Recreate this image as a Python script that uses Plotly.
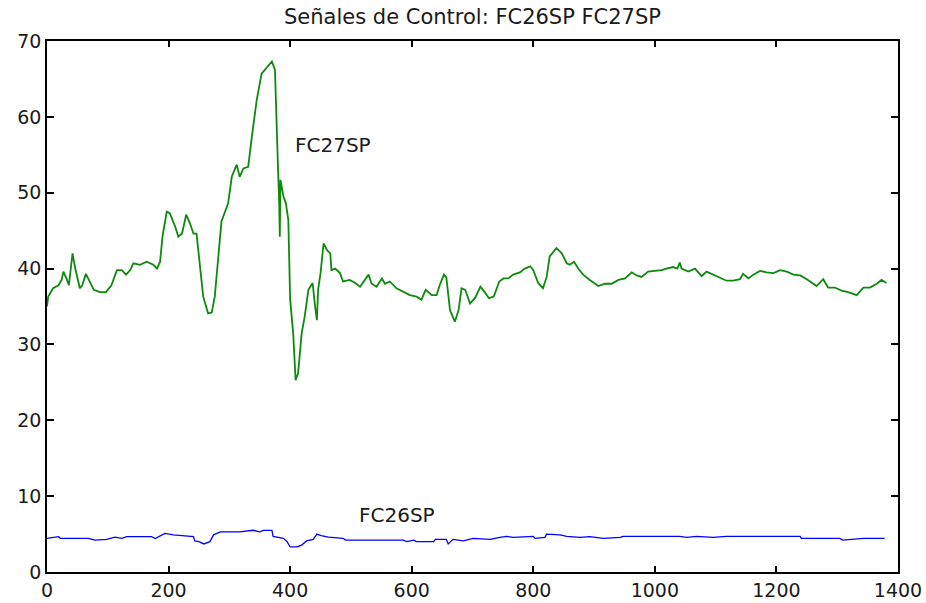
import plotly.graph_objects as go

# FC27SP control signal (sample index, value)
fc27_x = [0, 2, 10, 19, 24, 27, 32, 36, 42, 46, 54, 58, 64, 70, 77, 87, 97, 106, 115, 123,
          130, 137, 142, 153, 164, 175, 181, 186, 190, 197, 202, 211, 216, 222, 229, 235,
          241, 246, 252, 257, 265, 271, 276, 282, 287, 298, 304, 312, 317, 323, 331, 337,
          345, 353, 361, 370, 375, 378, 380, 382, 383, 384, 389, 393, 397, 400, 405, 409,
          413, 419, 424, 430, 437, 441, 444, 446, 450, 455, 461, 466, 468, 474, 482, 487,
          498, 507, 515, 529, 534, 542, 551, 556, 564, 575, 586, 597, 608, 616, 623, 633,
          641, 646, 653, 657, 663, 671, 677, 682, 688, 696, 704, 713, 720, 727, 735, 744,
          751, 759, 767, 778, 786, 795, 800, 808, 816, 822, 827, 838, 847, 855, 860, 867,
          874, 882, 893, 907, 918, 929, 940, 951, 962, 970, 978, 989, 1000, 1011, 1019,
          1030, 1037, 1041, 1044, 1055, 1066, 1077, 1085, 1096, 1107, 1118, 1129, 1140,
          1145, 1154, 1162, 1173, 1184, 1195, 1206, 1217, 1228, 1239, 1250, 1258, 1266,
          1277, 1285, 1296, 1307, 1318, 1332, 1343, 1354, 1365, 1373, 1381]
fc27_y = [35.0, 36.3, 37.4, 37.8, 38.5, 39.6, 38.7, 37.8, 42.0, 40.2, 37.4, 37.8, 39.3, 38.3,
          37.2, 36.9, 36.9, 37.8, 39.8, 39.8, 39.2, 39.8, 40.7, 40.5, 40.9, 40.5, 40.0, 40.9,
          44.2, 47.5, 47.3, 45.5, 44.2, 44.6, 47.1, 46.0, 44.6, 44.6, 40.2, 36.3, 34.1, 34.2,
          36.3, 42.0, 46.2, 48.6, 52.1, 53.7, 52.1, 53.2, 53.4, 57.4, 62.2, 65.7, 66.4, 67.3,
          66.2, 56.9, 53.4, 48.6, 44.2, 51.7, 49.5, 48.6, 46.4, 35.9, 31.5, 25.3, 26.2, 31.5,
          33.7, 37.2, 38.1, 35.0, 33.2, 37.2, 39.4, 43.3, 42.4, 42.0, 39.8, 40.0, 39.4, 38.3,
          38.5, 38.1, 37.6, 39.2, 38.0, 37.6, 38.7, 38.0, 38.3, 37.4, 36.9, 36.5, 36.3, 35.9,
          37.2, 36.5, 36.5, 37.8, 39.2, 38.8, 34.5, 33.0, 34.5, 37.4, 37.2, 35.4, 36.1, 37.6,
          36.9, 36.1, 36.3, 38.3, 38.7, 38.7, 39.2, 39.5, 40.0, 40.3, 39.8, 38.1, 37.4, 38.9,
          41.6, 42.7, 42.0, 40.7, 40.5, 40.9, 40.0, 39.2, 38.5, 37.7, 38.0, 38.0, 38.5, 38.7,
          39.5, 39.1, 38.9, 39.6, 39.7, 39.8, 40.0, 40.2, 40.0, 40.8, 40.0, 39.6, 40.0, 39.0,
          39.6, 39.2, 38.9, 38.4, 38.4, 38.6, 39.3, 38.7, 39.2, 39.7, 39.5, 39.4, 39.8, 39.6,
          39.2, 39.1, 38.6, 38.1, 37.7, 38.6, 37.5, 37.5, 37.1, 36.9, 36.5, 37.5, 37.5, 38.0,
          38.5, 38.1]

# FC26SP control signal (sample index, value)
fc26_x = [0, 19, 22, 68, 79, 98, 112, 123, 131, 172, 178, 194, 208, 241, 243, 250, 258, 268,
          274, 285, 317, 339, 350, 356, 370, 372, 389, 395, 400, 411, 419, 427, 438, 444, 451,
          463, 487, 491, 586, 592, 603, 608, 636, 639, 657, 660, 668, 685, 701, 729, 745, 756,
          767, 800, 803, 819, 822, 844, 855, 877, 893, 915, 943, 948, 1041, 1052, 1069, 1096,
          1118, 1239, 1241, 1304, 1309, 1332, 1343, 1378]
fc26_y = [4.44, 4.66, 4.44, 4.44, 4.2, 4.3, 4.6, 4.44, 4.66, 4.66, 4.4, 5.1, 4.9, 4.66, 4.1,
          4.0, 3.7, 4.0, 4.9, 5.3, 5.3, 5.5, 5.3, 5.5, 5.5, 4.7, 4.44, 4.0, 3.3, 3.3, 3.55, 4.1,
          4.3, 5.0, 4.8, 4.6, 4.44, 4.2, 4.2, 4.0, 4.2, 4.0, 4.0, 4.3, 4.3, 3.7, 4.3, 4.1, 4.44,
          4.3, 4.57, 4.7, 4.57, 4.7, 4.44, 4.57, 5.0, 4.9, 4.7, 4.57, 4.66, 4.44, 4.57, 4.7,
          4.7, 4.57, 4.7, 4.57, 4.7, 4.7, 4.44, 4.44, 4.2, 4.3, 4.44, 4.44]

x_ticks = [0, 200, 400, 600, 800, 1000, 1200, 1400]
y_ticks = [0, 10, 20, 30, 40, 50, 60, 70]

FONT = "DejaVu Sans"
INK = "#1a1a1a"

fig = go.Figure()
fig.add_trace(go.Scatter(x=fc27_x, y=fc27_y, mode="lines", name="FC27SP",
                         line=dict(color="#0c8a0c", width=1.8)))
fig.add_trace(go.Scatter(x=fc26_x, y=fc26_y, mode="lines", name="FC26SP",
                         line=dict(color="#0000ff", width=1.3)))

fig.add_annotation(x=405, y=56.3, text="FC27SP", showarrow=False, xanchor="left",
                   yanchor="middle", font=dict(family=FONT, size=20, color=INK))
fig.add_annotation(x=510, y=7.5, text="FC26SP", showarrow=False, xanchor="left",
                   yanchor="middle", font=dict(family=FONT, size=20, color=INK))

axis_common = dict(showgrid=False, zeroline=False, showline=True, linecolor="black",
                   linewidth=1.5, mirror="ticks", ticks="inside", tickcolor="black",
                   tickwidth=1.5, automargin=False,
                   tickfont=dict(family=FONT, size=19, color=INK))

fig.update_xaxes(range=[0, 1400], tickvals=x_ticks, ticklen=6, **axis_common)
fig.update_yaxes(range=[0, 70], tickvals=y_ticks, ticklen=7, **axis_common)

fig.update_layout(
    width=926, height=603,
    margin=dict(l=47, r=28, t=41, b=31, autoexpand=False),
    paper_bgcolor="white", plot_bgcolor="white",
    showlegend=False,
    title=dict(text="Señales de Control: FC26SP FC27SP", x=0.5, xref="paper",
               y=1 - 17 / 603, yref="container", yanchor="middle",
               font=dict(family=FONT, size=21, color=INK)),
)

fig.write_html("out.html")
